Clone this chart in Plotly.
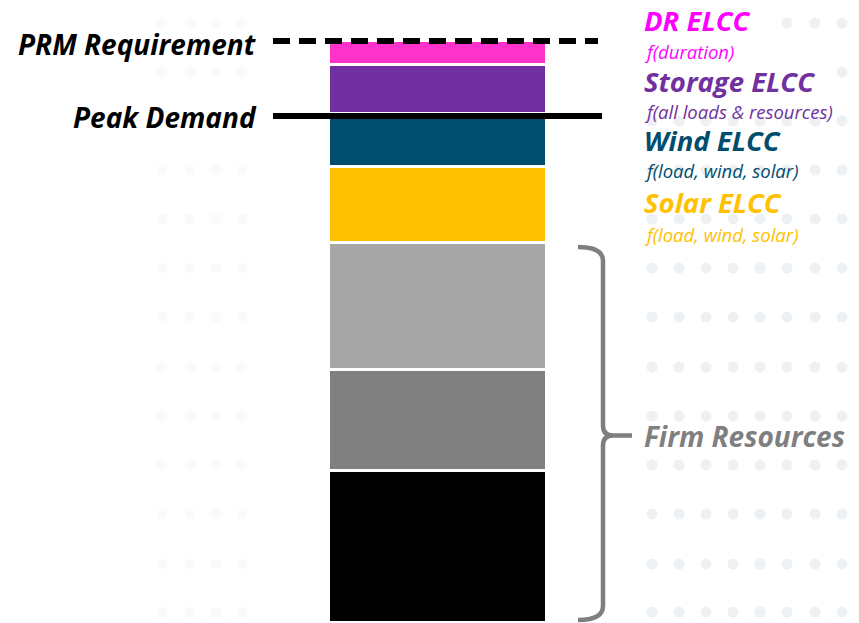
import plotly.graph_objects as go

# ---- data (arbitrary capacity units) ----
segments = ["Firm 1", "Firm 2", "Firm 3", "Solar ELCC", "Wind ELCC", "Storage ELCC", "DR ELCC"]
values = [152, 101, 127, 76, 53, 49, 24]
colors = ["#000000", "#808080", "#A6A6A6", "#FFC000", "#004D6E", "#7030A0", "#FF33CC"]
peak_demand = 507
prm_requirement = 582
firm_total = sum(values[:3])

right_titles = ["DR ELCC", "Storage ELCC", "Wind ELCC", "Solar ELCC"]
right_subs = ["f(duration)", "f(all loads & resources)", "f(load, wind, solar)", "f(load, wind, solar)"]
right_colors = ["#FF00FF", "#7030A0", "#004D6E", "#FFC000"]

W, H = 859, 623
FONT = "Open Sans"

fig = go.Figure()

# faint decorative dot grid
dot_rows = [23, 72, 121, 170, 219, 268, 317, 367, 416, 465, 514, 564, 612]
right_cols = [652, 679, 706, 733, 760, 787, 815, 842]
left_cols = [162, 190, 216, 242]
rx, ry, lx, ly = [], [], [], []
for r in dot_rows:
    for c in right_cols:
        if r == 23 and c < 786:
            continue
        if r == 72 and c < 838:
            continue
        rx.append(c); ry.append(H - r)
    for c in left_cols:
        lx.append(c); ly.append(H - r)
fig.add_trace(go.Scatter(x=rx, y=ry, mode="markers", hoverinfo="skip", showlegend=False,
                         marker=dict(size=11, color="#EDF1F4")))
fig.add_trace(go.Scatter(x=lx, y=ly, mode="markers", hoverinfo="skip", showlegend=False,
                         marker=dict(size=11, color="#FAFAFA")))

# stacked bar
for name, v, c in zip(segments, values, colors):
    fig.add_trace(go.Bar(x=[437.5], y=[v], name=name, width=218, showlegend=False,
                         marker=dict(color=c, line=dict(color="white", width=3))))

# requirement lines
fig.add_shape(type="line", x0=273, x1=598, y0=prm_requirement, y1=prm_requirement,
              line=dict(color="black", width=6, dash="17px,9px"))
fig.add_shape(type="line", x0=273, x1=602, y0=peak_demand, y1=peak_demand,
              line=dict(color="black", width=6))

# brace for firm resources
yb, yt = 3, firm_total - 4
ym = (yb + yt) / 2 - 2
xb, xl = 603, 578
brace = (f"M {xl},{yt} Q {xb},{yt} {xb},{yt-14} L {xb},{ym+10} Q {xb},{ym} {xb+10},{ym} L 632,{ym} "
         f"M {xb+10},{ym} Q {xb},{ym} {xb},{ym-10} L {xb},{yb+14} Q {xb},{yb} {xl},{yb}")
fig.add_shape(type="path", path=brace, line=dict(color="#7F7F7F", width=4.5))

# left labels
fig.add_annotation(x=259, y=H - 44, text="<b><i>PRM Requirement</i></b>", showarrow=False,
                   xanchor="right", yanchor="middle", font=dict(family=FONT, size=28, color="black"))
fig.add_annotation(x=259, y=H - 117, text="<b><i>Peak Demand</i></b>", showarrow=False,
                   xanchor="right", yanchor="middle", font=dict(family=FONT, size=28, color="black"))

# right labels
title_y = [20, 81, 140, 202]
sub_y = [51, 111, 170, 234]
for t, s, c, ty, sy in zip(right_titles, right_subs, right_colors, title_y, sub_y):
    fig.add_annotation(x=642, y=H - ty, text=f"<b><i>{t}</i></b>", showarrow=False,
                       xanchor="left", yanchor="middle", font=dict(family=FONT, size=27.5, color=c))
    fig.add_annotation(x=642, y=H - sy, text=f"<i>{s}</i>", showarrow=False,
                       xanchor="left", yanchor="middle", font=dict(family=FONT, size=18.5, color=c))

fig.add_annotation(x=642, y=H - 436, text="<b><i>Firm Resources</i></b>", showarrow=False,
                   xanchor="left", yanchor="middle", font=dict(family=FONT, size=28, color="#7F7F7F"))

fig.update_layout(
    width=W, height=H, margin=dict(l=0, r=0, t=0, b=0),
    barmode="stack", bargap=0,
    paper_bgcolor="white", plot_bgcolor="white",
    xaxis=dict(range=[0, W], visible=False, fixedrange=True),
    yaxis=dict(range=[0, H], visible=False, fixedrange=True),
    showlegend=False,
    hovermode=False,
)

fig.write_html("out.html", config={"displayModeBar": False},
               post_script="document.body.style.margin='0';")
